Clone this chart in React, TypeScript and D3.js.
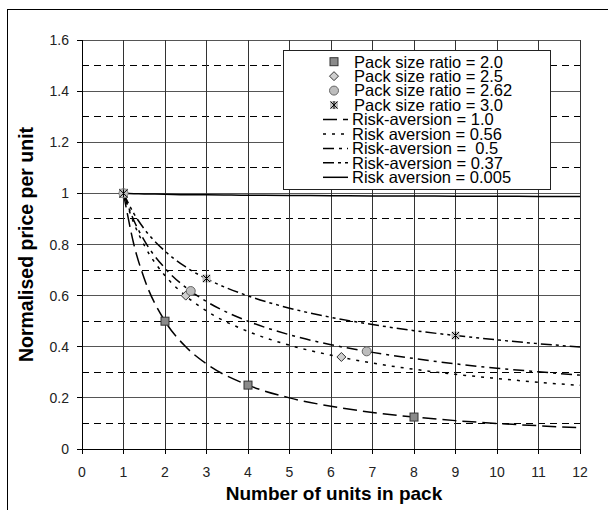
import React from "react";
import * as d3 from "d3";

const xTicks = [0, 1, 2, 3, 4, 5, 6, 7, 8, 9, 10, 11, 12];
const yTicks = [0, 0.2, 0.4, 0.6, 0.8, 1, 1.2, 1.4, 1.6];
const yTickLabels = ["0", "0.2", "0.4", "0.6", "0.8", "1", "1.2", "1.4", "1.6"];
const yMinor = [0.1, 0.3, 0.5, 0.7, 0.9, 1.1, 1.3, 1.5];

const curveX = [1, 1.25, 1.5, 2, 2.5, 3, 4, 5, 6, 7, 8, 9, 10, 11, 12];
const risk100 = [1, 0.8, 0.667, 0.5, 0.4, 0.333, 0.25, 0.2, 0.167, 0.143, 0.125, 0.111, 0.1, 0.091, 0.083];
const risk056 = [1, 0.883, 0.797, 0.678, 0.599, 0.54, 0.46, 0.406, 0.367, 0.336, 0.312, 0.292, 0.276, 0.261, 0.249];
const risk050 = [1, 0.894, 0.816, 0.707, 0.632, 0.577, 0.5, 0.447, 0.408, 0.378, 0.354, 0.333, 0.316, 0.302, 0.289];
const risk037 = [1, 0.921, 0.861, 0.774, 0.712, 0.666, 0.599, 0.551, 0.515, 0.487, 0.463, 0.444, 0.427, 0.412, 0.399];
const risk0005 = [1, 0.999, 0.998, 0.997, 0.995, 0.995, 0.993, 0.992, 0.991, 0.99, 0.99, 0.989, 0.989, 0.988, 0.988];

const pack20X = [1, 2, 4, 8];
const pack20Y = [1, 0.5, 0.25, 0.125];
const pack25X = [1, 2.5, 6.25];
const pack25Y = [1, 0.6, 0.36];
const pack262X = [1, 2.62, 6.86];
const pack262Y = [1, 0.618, 0.382];
const pack30X = [1, 3, 9];
const pack30Y = [1, 0.667, 0.444];

const packLabels = ["Pack size ratio = 2.0", "Pack size ratio = 2.5", "Pack size ratio = 2.62", "Pack size ratio = 3.0"];
const riskLabels = ["Risk-aversion = 1.0", "Risk aversion = 0.56", "Risk-aversion =  0.5", "Risk-aversion = 0.37", "Risk aversion = 0.005"];
const riskSeries = [risk100, risk056, risk050, risk037, risk0005];
const riskDash = ["14,6", "3,6", "11,5,3,5", "11,4,3,4,3,4", null];

const FONT = "'Liberation Sans', Arial, sans-serif";

const L = 82, R = 580, T = 40, B = 449;

function Marker({ kind, x, y }: { kind: number; x: number; y: number }) {
  if (kind === 0) {
    return <rect x={x - 4} y={y - 4} width={8} height={8} fill="#8a8a8a" stroke="#333" strokeWidth={1} />;
  }
  if (kind === 1) {
    return <path d={`M${x},${y - 4.5}L${x + 4.5},${y}L${x},${y + 4.5}L${x - 4.5},${y}Z`} fill="#cfcfcf" stroke="#333" strokeWidth={1} />;
  }
  if (kind === 2) {
    return <circle cx={x} cy={y} r={4.5} fill="#bdbdbd" stroke="#666" strokeWidth={1} />;
  }
  return (
    <g>
      <rect x={x - 4} y={y - 4} width={8} height={8} fill="#c0c0c0" />
      <path d={`M${x - 3.5},${y - 3.5}L${x + 3.5},${y + 3.5}M${x + 3.5},${y - 3.5}L${x - 3.5},${y + 3.5}M${x},${y - 4}L${x},${y + 4}`} stroke="#000" strokeWidth={1} fill="none" />
    </g>
  );
}

export default function App() {
  const x = d3.scaleLinear().domain([0, 12]).range([L, R]);
  const y = d3.scaleLinear().domain([0, 1.6]).range([B, T]);
  const line = d3
    .line<number>()
    .x((_, i) => x(curveX[i]))
    .y((d) => y(d))
    .curve(d3.curveMonotoneX);

  const packs = [
    [pack20X, pack20Y],
    [pack25X, pack25Y],
    [pack262X, pack262Y],
    [pack30X, pack30Y],
  ];

  const legX = 283, legY = 50, legW = 267, legH = 139;
  const rowY0 = 61.7, rowH = 14.45;

  return (
    <div style={{ position: "absolute", left: 0, top: 0 }}>
      <svg width={608} height={510} style={{ display: "block", fontFamily: FONT }}>
        <rect x={0} y={0} width={608} height={510} fill="#fff" />
        <rect x={7.5} y={9.5} width={640} height={560} fill="none" stroke="#000" strokeWidth={1} />

        {/* grid */}
        <g shapeRendering="crispEdges">
          {yMinor.map((v) => (
            <line key={"m" + v} x1={L} x2={R} y1={y(v)} y2={y(v)} stroke="#000" strokeDasharray="7,5" />
          ))}
          {yTicks.slice(1).map((v) => (
            <line key={"h" + v} x1={L} x2={R} y1={y(v)} y2={y(v)} stroke="#555" />
          ))}
          {xTicks.slice(1).map((v) => (
            <line key={"v" + v} x1={x(v)} x2={x(v)} y1={T} y2={B} stroke="#333" />
          ))}
          {/* axes */}
          <line x1={L} x2={L} y1={T} y2={B + 3} stroke="#000" />
          <line x1={L} x2={R} y1={B} y2={B} stroke="#000" />
          {yTicks.map((v) => (
            <line key={"yt" + v} x1={L - 5} x2={L} y1={y(v)} y2={y(v)} stroke="#000" />
          ))}
          {xTicks.map((v) => (
            <line key={"xt" + v} x1={x(v)} x2={x(v)} y1={B} y2={B + 5} stroke="#000" />
          ))}
        </g>

        {/* tick labels */}
        {yTicks.map((v, i) => (
          <text key={"yl" + v} x={69} y={y(v) + 5} textAnchor="end" fontSize={14} fill="#222">
            {yTickLabels[i]}
          </text>
        ))}
        {xTicks.map((v) => (
          <text key={"xl" + v} x={x(v)} y={477} textAnchor="middle" fontSize={14} fill="#222">
            {v}
          </text>
        ))}

        {/* axis titles */}
        <text x={(L + R) / 2 + 3} y={500} textAnchor="middle" fontSize={19} fontWeight="bold" fill="#000">
          Number of units in pack
        </text>
        <text transform={`translate(33,${(T + B) / 2}) rotate(-90)`} textAnchor="middle" fontSize={19.5} fontWeight="bold" fill="#000">
          Normalised price per unit
        </text>

        {/* curves */}
        {riskSeries.map((s, i) => (
          <path
            key={"c" + i}
            d={line(s) || ""}
            fill="none"
            stroke="#000"
            strokeWidth={1.5}
            strokeDasharray={riskDash[i] || undefined}
          />
        ))}

        {/* markers */}
        {packs.map(([px, py], k) => (
          <g key={"p" + k}>
            {px.map((v, i) => (
              <Marker key={i} kind={k} x={x(v)} y={y(py[i])} />
            ))}
          </g>
        ))}

        {/* legend */}
        <rect x={legX + 0.5} y={legY + 0.5} width={legW} height={legH} fill="#fff" stroke="#222" strokeWidth={1} />
        {packLabels.map((lab, i) => (
          <g key={"lp" + i}>
            <Marker kind={i} x={334} y={rowY0 + i * rowH} />
            <text x={354} y={rowY0 + i * rowH + 5.8} fontSize={16.5} fill="#000">
              {lab}
            </text>
          </g>
        ))}
        {riskLabels.map((lab, j) => {
          const i = j + 4;
          const yy = rowY0 + i * rowH;
          return (
            <g key={"lr" + j}>
              <line x1={323} x2={348} y1={yy} y2={yy} stroke="#000" strokeWidth={1.5} strokeDasharray={riskDash[j] || undefined} />
              <text x={352} y={yy + 5.8} fontSize={16.5} fill="#000" style={{ whiteSpace: "pre" }}>
                {lab}
              </text>
            </g>
          );
        })}
      </svg>
    </div>
  );
}
